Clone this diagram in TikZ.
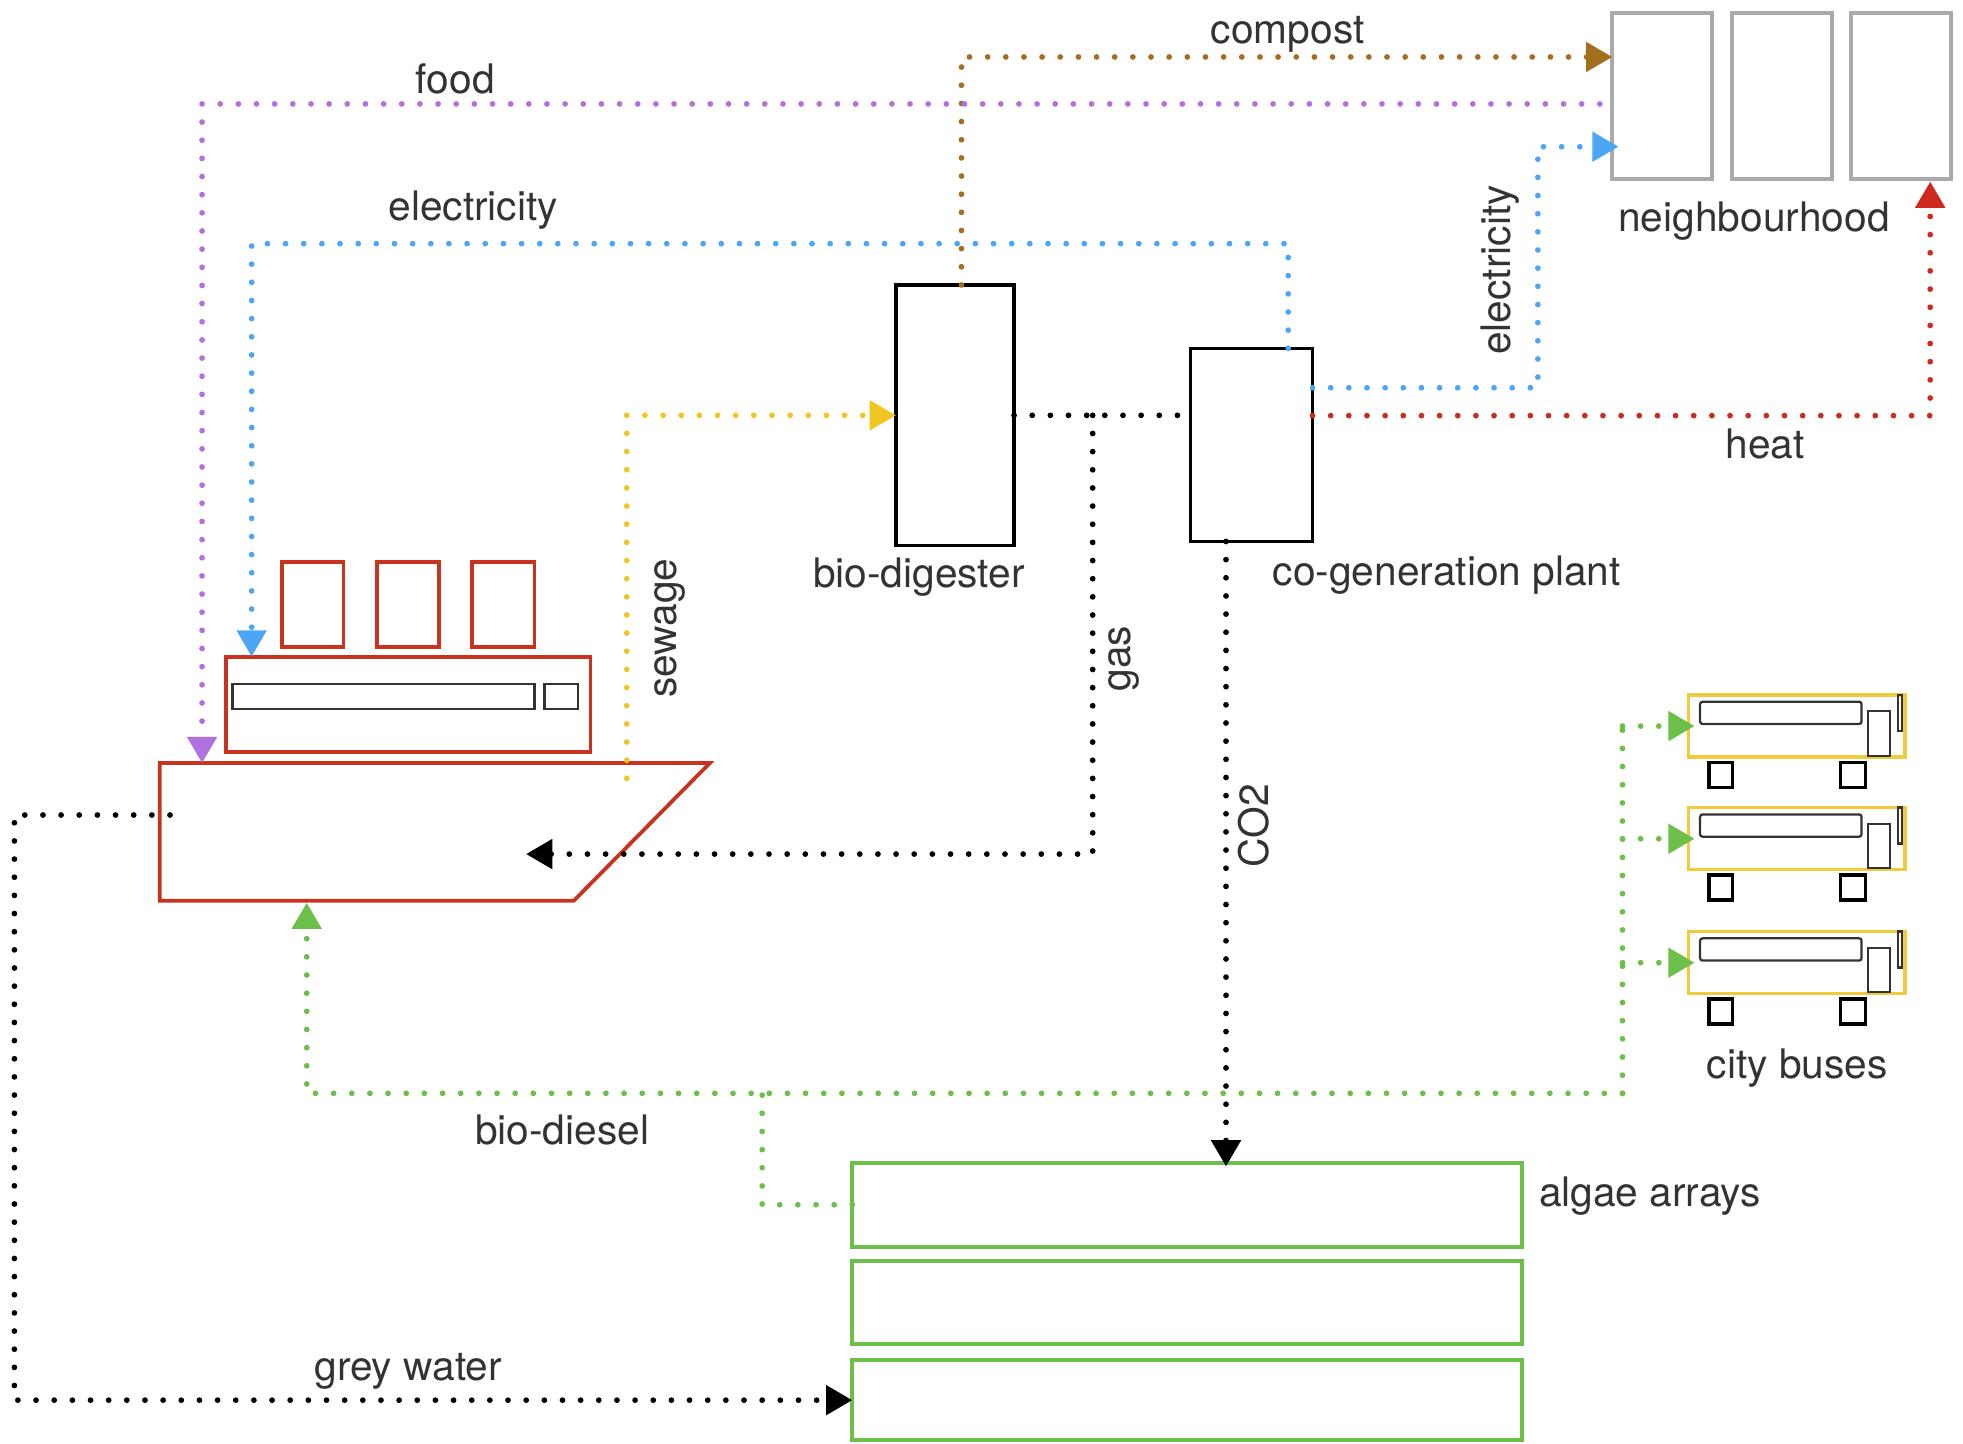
\documentclass[tikz,border=0pt]{standalone}
\usepackage{fontspec}
\setmainfont{TeX Gyre Heros}
\usetikzlibrary{arrows.meta}
\definecolor{txt}{HTML}{333333}
\definecolor{nbgray}{HTML}{AAAAAA}
\definecolor{shipred}{HTML}{C9321F}
\definecolor{wgray}{HTML}{333333}
\definecolor{agreen}{HTML}{6DBF4B}
\definecolor{busyellow}{HTML}{F2CB3C}
\definecolor{fpurple}{HTML}{B070E0}
\definecolor{fblue}{HTML}{4DA6F5}
\definecolor{cbrown}{HTML}{A36F1E}
\definecolor{fred}{HTML}{CC2B1D}
\definecolor{fyellow}{HTML}{F2C622}
\definecolor{fgreen}{HTML}{6CC04A}
\begin{document}
\begin{tikzpicture}[x=0.5pt,y=-0.5pt,
  flow/.style={line width=2.3pt,line cap=round,dash pattern=on 0pt off 7.25pt},
  arr/.style={-{Triangle[length=10.5pt,width=11.5pt]}},
  lbl/.style={text=txt,font=\fontsize{16.25}{19}\selectfont,inner sep=0pt,outer sep=0pt},
  house/.style={draw=nbgray,line width=1.6pt,minimum width=39.9pt,minimum height=66.3pt,inner sep=0pt,outer sep=0pt},
  plant/.style={draw=black,line width=1.4pt,inner sep=0pt,outer sep=0pt},
  algae/.style={draw=agreen,line width=1.5pt,minimum width=267.55pt,inner sep=0pt,outer sep=0pt},
  shippart/.style={draw=shipred,line width=1.5pt,inner sep=0pt,outer sep=0pt},
  win/.style={draw=wgray,line width=0.9pt,inner sep=0pt,outer sep=0pt},
  busbody/.style={draw=busyellow,line width=1.3pt,minimum width=86.5pt,minimum height=24.75pt,inner sep=0pt,outer sep=0pt},
  wheel/.style={draw=black,line width=1.4pt,minimum height=10pt,inner sep=0pt,outer sep=0pt}
]
\useasboundingbox (0,0) rectangle (1568,1153);

% neighbourhood
\node[house] (h1) at (1327.8,76.9) {};
\node[house] (h2) at (1423.3,76.9) {};
\node[house] (h3) at (1518.1,76.9) {};

% plants
\node[plant,minimum width=47.15pt,minimum height=104.15pt] (bd) at (762.85,331.75) {};
\node[plant,minimum width=48.8pt,minimum height=77.15pt] (cg) at (999.6,355.35) {};

% algae arrays
\node[algae,minimum height=33.55pt] (a1) at (948.35,962.25) {};
\node[algae,minimum height=33.1pt] (a2) at (948.35,1040.4) {};
\node[algae,minimum height=32.1pt] (a3) at (948.35,1118.4) {};

% ship
\draw[shipred,line width=1.5pt,line join=miter] (127.7,609.5) -- (567,609.5) -- (458.4,719.4) -- (127.7,719.4) -- cycle;
\node[shippart,minimum width=145.65pt,minimum height=38.1pt] (cabin) at (325.95,562.6) {};
\node[shippart,minimum width=24.6pt,minimum height=33.95pt] (f1) at (249.8,482.65) {};
\node[shippart,minimum width=24.9pt,minimum height=33.95pt] (f2) at (325.9,482.65) {};
\node[shippart,minimum width=25.05pt,minimum height=33.95pt] (f3) at (401.95,482.65) {};
\node[win,minimum width=120.6pt,minimum height=10pt] (sw1) at (306.4,556.6) {};
\node[win,minimum width=13.4pt,minimum height=10pt] (sw2) at (448.4,556.6) {};
\coordinate (hullFood) at (161.4,609.5);
\coordinate (hullSew) at (500.6,621.7);
\coordinate (hullGW) at (135.8,651);
\coordinate (hullBD) at (245,721);
\coordinate (gasTip) at (420.2,682.2);

% buses
\foreach \dy [count=\k] in {0,90,189}{
  \node[busbody] (bus\k) at (1435.1,579.95+\dy) {};
  \node[win,rounded corners=1pt,minimum width=64.5pt,minimum height=8.9pt] (bw\k) at (1422.5,569.4+\dy) {};
  \node[win,minimum width=8.95pt,minimum height=17.8pt] (bdoor\k) at (1500.75,585.8+\dy) {};
  \node[win,minimum width=1.85pt,minimum height=14.35pt] (bbar\k) at (1517.65,569.35+\dy) {};
  \node[wheel,minimum width=9.5pt] (wa\k) at (1374.5,619+\dy) {};
  \node[wheel,minimum width=10pt] (wb\k) at (1480,619+\dy) {};
}

% flows
\draw[flow,cbrown,arr] ([xshift=2.575pt]bd.north) |- ([yshift=15.7pt]h1.west);
\draw[flow,fpurple,arr] ([xshift=-5pt,yshift=-3.05pt]h1.west) -| (hullFood);
\draw[flow,fblue,arr] ([xshift=14.7pt]cg.north) -- ++(0,-83.6) -| ([xshift=-62.475pt]cabin.north);
\draw[flow,fblue,arr] ([yshift=22.825pt]cg.east) -- ++(180,0) |- ([xshift=2.5pt,yshift=-20.15pt]h1.west);
\draw[flow,fred,arr] ([yshift=11.675pt]cg.east) -| ([xshift=11.85pt,yshift=-0.9pt]h3.south);
\draw[flow,black] (bd.east) -- (bd.east -| cg.west);
\coordinate (gasJ) at (872.8,331.75);
\draw[flow,black,arr] (gasJ) |- (gasTip);
\draw[flow,black,arr] ([xshift=-10.15pt]cg.south) coordinate (co2s) -- ([yshift=-1.5pt]co2s |- a1.north);
\draw[flow,fyellow,arr] (hullSew) |- (bd.west);
\draw[flow,black,arr] (hullGW) -- ++(-124.3,0) |- (a3.west);
\draw[flow,fgreen] (a1.west) -- ++(-72,0) -- ++(0,-89.2);
\coordinate (bdR) at (1296,873.3);
\draw[flow,fgreen,arr] (bdR) -| (hullBD);
\draw[flow,fgreen] (bdR) -- (bdR |- bus1.west);
\foreach \k in {1,2,3}{
  \draw[flow,fgreen,arr] (bdR |- bus\k.west) -- ([xshift=2.5pt]bus\k.west);
}

% labels
\node[lbl,anchor=base] (lcompost) at (1028.5,34.6) {compost};
\node[lbl,anchor=base] (lfood) at (363.7,74.5) {food};
\node[lbl,anchor=base] (lelec1) at (378,176.3) {electricity};
\node[lbl,anchor=base] (lnb) at (1401,185) {neighbourhood};
\node[lbl,rotate=90] (lelec2) at (1198.5,215.7) {electricity};
\node[lbl,anchor=base] (lheat) at (1410,366) {heat};
\node[lbl,anchor=base] (lbd) at (734,469) {bio-digester};
\node[lbl,anchor=base] (lcg) at (1155.6,467.3) {co-generation plant};
\node[lbl,rotate=90] (lsew) at (534.8,501.8) {sewage};
\node[lbl,rotate=90] (lgas) at (897.5,526) {gas};
\node[lbl,rotate=90] (lco2) at (1001,659.5) {CO2};
\node[lbl,anchor=base] (lbdsl) at (449,914) {bio-diesel};
\node[lbl,anchor=base] (lalg) at (1318,963.9) {algae arrays};
\node[lbl,anchor=base] (lgw) at (326,1102.3) {grey water};
\node[lbl,anchor=base] (lbus) at (1435.6,861.3) {city buses};
\end{tikzpicture}
\end{document}
